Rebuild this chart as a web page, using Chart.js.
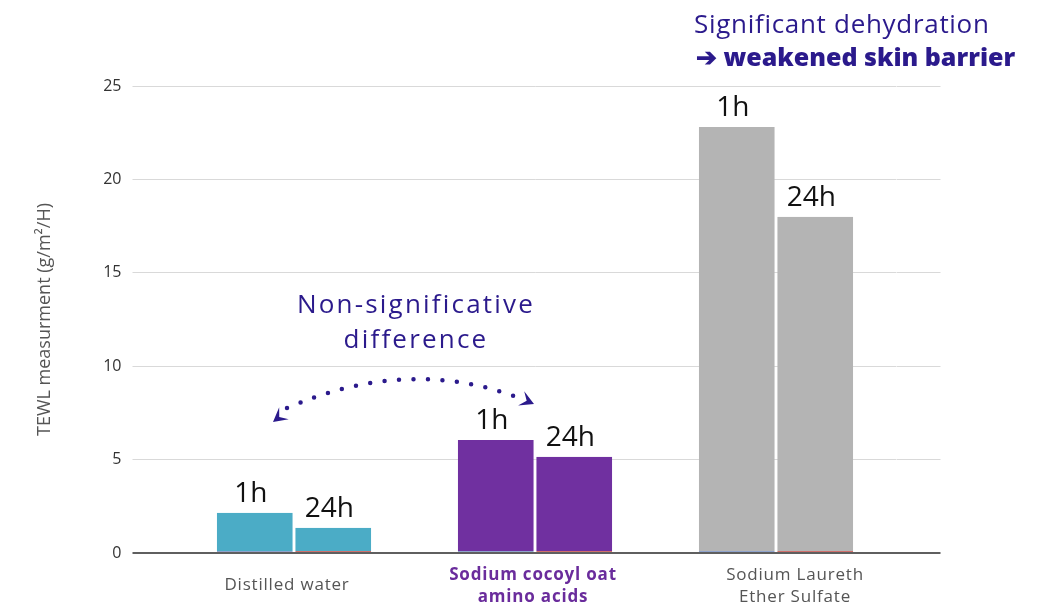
<!DOCTYPE html>
<html>
<head>
<meta charset="utf-8">
<script src="https://cdn.jsdelivr.net/npm/chart.js@4.4.1/dist/chart.umd.min.js"></script>
<style>
  html, body { margin: 0; padding: 0; background: #fff; }
  #wrap { width: 1048px; height: 611px; position: relative; }
</style>
</head>
<body>
<div id="wrap"><canvas id="chart" width="1048" height="611"></canvas></div>
<script>
// --- Data ---
const categories = ['Distilled water', ['Sodium cocoyl oat', 'amino acids'], ['Sodium Laureth', 'Ether Sulfate']];
const values1h = [2.15, 6.05, 22.8];
const values24h = [1.35, 5.15, 18.0];
const seriesLabels = ['1h', '24h'];
const barColors = ['#4BACC6', '#7030A0', '#B4B4B4'];
const yTicks = [0, 5, 10, 15, 20, 25];

const INK = '#2B1A8C';
// small horizontal nudges of the category captions, as in the original layout
const captionShift = [-7, -2, 19];

// --- Annotation / label drawing ---
const overlay = {
    id: 'overlay',
    afterDatasetsDraw(chart) {
        const ctx = chart.ctx;
        ctx.save();

        // series labels above each bar
        ctx.fillStyle = '#111';
        ctx.font = '28px "Open Sans"';
        ctx.textAlign = 'center';
        ctx.textBaseline = 'alphabetic';
        chart.data.datasets.forEach((ds, di) => {
            chart.getDatasetMeta(di).data.forEach(bar => {
                ctx.fillText(seriesLabels[di], bar.x - 4, bar.y - 11);
            });
        });

        // category captions under the axis
        const xs = chart.scales.x;
        const ys = chart.scales.y;
        const base = ys.getPixelForValue(0);
        ctx.letterSpacing = '0.8px';
        categories.forEach((cat, i) => {
            const cx = xs.getPixelForTick(i) + captionShift[i];
            const lines = Array.isArray(cat) ? cat : [cat];
            if (i === 1) {
                ctx.fillStyle = '#6A2C9C';
                ctx.font = 'bold 17px "Open Sans"';
            } else {
                ctx.fillStyle = '#555';
                ctx.font = '17px "Open Sans"';
            }
            const top = lines.length === 1 ? base + 32 : base + 22;
            ctx.textBaseline = 'middle';
            lines.forEach((ln, k) => ctx.fillText(ln, cx, top + k * 22));
        });

        // annotation texts
        ctx.fillStyle = INK;
        ctx.textBaseline = 'middle';
        ctx.letterSpacing = '2.2px';
        ctx.font = '26px "Open Sans"';
        ctx.fillText('Non-significative', 416, 306);
        ctx.fillText('difference', 416, 341);

        ctx.textAlign = 'left';
        ctx.letterSpacing = '0.7px';
        ctx.font = '26px "Open Sans"';
        ctx.fillText('Significant dehydration', 694, 26);
        ctx.letterSpacing = '0px';
        ctx.font = '800 25px "Open Sans"';
        ctx.fillText('\u2794 weakened skin barrier', 696, 59);

        // dotted arc with arrowheads
        const p0 = { x: 287, y: 408 }, c = { x: 405, y: 357 }, p2 = { x: 514, y: 396 };
        ctx.strokeStyle = INK;
        ctx.lineWidth = 4.5;
        ctx.lineCap = 'round';
        ctx.setLineDash([0, 14.5]);
        ctx.beginPath();
        ctx.moveTo(p0.x, p0.y);
        ctx.quadraticCurveTo(c.x, c.y, p2.x, p2.y);
        ctx.stroke();
        ctx.setLineDash([]);

        function head(tip, from) {
            const a = Math.atan2(tip.y - from.y, tip.x - from.x);
            const L = 16, W = 0.5;
            ctx.fillStyle = INK;
            ctx.beginPath();
            ctx.moveTo(tip.x, tip.y);
            ctx.lineTo(tip.x - L * Math.cos(a - W), tip.y - L * Math.sin(a - W));
            ctx.lineTo(tip.x - L * 0.5 * Math.cos(a), tip.y - L * 0.5 * Math.sin(a));
            ctx.lineTo(tip.x - L * Math.cos(a + W), tip.y - L * Math.sin(a + W));
            ctx.closePath();
            ctx.fill();
        }
        head({ x: 273, y: 422 }, { x: 288, y: 410 });
        head({ x: 534, y: 404 }, { x: 518, y: 397 });

        ctx.restore();
    }
};

const gridColor = ctx => (ctx.tick && ctx.tick.value === 0 ? '#5f5f5f' : '#d9d9d9');
const gridWidth = ctx => (ctx.tick && ctx.tick.value === 0 ? 2 : 1);

new Chart(document.getElementById('chart'), {
    type: 'bar',
    data: {
        labels: categories,
        datasets: [{
            label: seriesLabels[0],
            data: values1h,
            backgroundColor: barColors,
            borderColor: '#8FA3CC',
            borderWidth: { top: 0, left: 0, right: 0, bottom: 1 },
            borderSkipped: false,
            categoryPercentage: 0.651,
            barPercentage: 0.968,
        }, {
            label: seriesLabels[1],
            data: values24h,
            backgroundColor: barColors,
            borderColor: '#D0706C',
            borderWidth: { top: 0, left: 0, right: 0, bottom: 1 },
            borderSkipped: false,
            categoryPercentage: 0.651,
            barPercentage: 0.968,
        }]
    },
    options: {
        responsive: false,
        animation: false,
        layout: { padding: { top: 86, left: 0, right: 0, bottom: 0 } },
        plugins: { legend: { display: false }, tooltip: { enabled: false } },
        scales: {
            x: {
                grid: { display: false },
                border: { display: true, color: '#5f5f5f', width: 2 },
                ticks: { display: false },
                afterFit: s => { s.height = 58; }
            },
            y: {
                min: 0, max: 25,
                afterBuildTicks: s => { s.ticks = yTicks.map(v => ({ value: v })); },
                grid: { color: gridColor, lineWidth: gridWidth, tickLength: 41, tickColor: gridColor },
                border: { display: false },
                ticks: { color: '#333', font: { family: 'Open Sans', size: 16 }, padding: 11 },
                title: {
                    display: true,
                    text: 'TEWL measurment (g/m\u00b2/H)',
                    color: '#555',
                    font: { family: 'Open Sans', size: 18 },
                    padding: { top: 34, bottom: 0 }
                },
                afterFit: s => { s.width = 173.5; }
            },
            y2: {
                position: 'right',
                min: 0, max: 25,
                afterBuildTicks: s => { s.ticks = yTicks.map(v => ({ value: v })); },
                grid: { drawOnChartArea: false, color: gridColor, lineWidth: gridWidth, tickLength: 44, tickColor: gridColor },
                border: { display: false },
                ticks: { display: false },
                afterFit: s => { s.width = 151.5; }
            }
        }
    },
    plugins: [overlay]
});
</script>
</body>
</html>
